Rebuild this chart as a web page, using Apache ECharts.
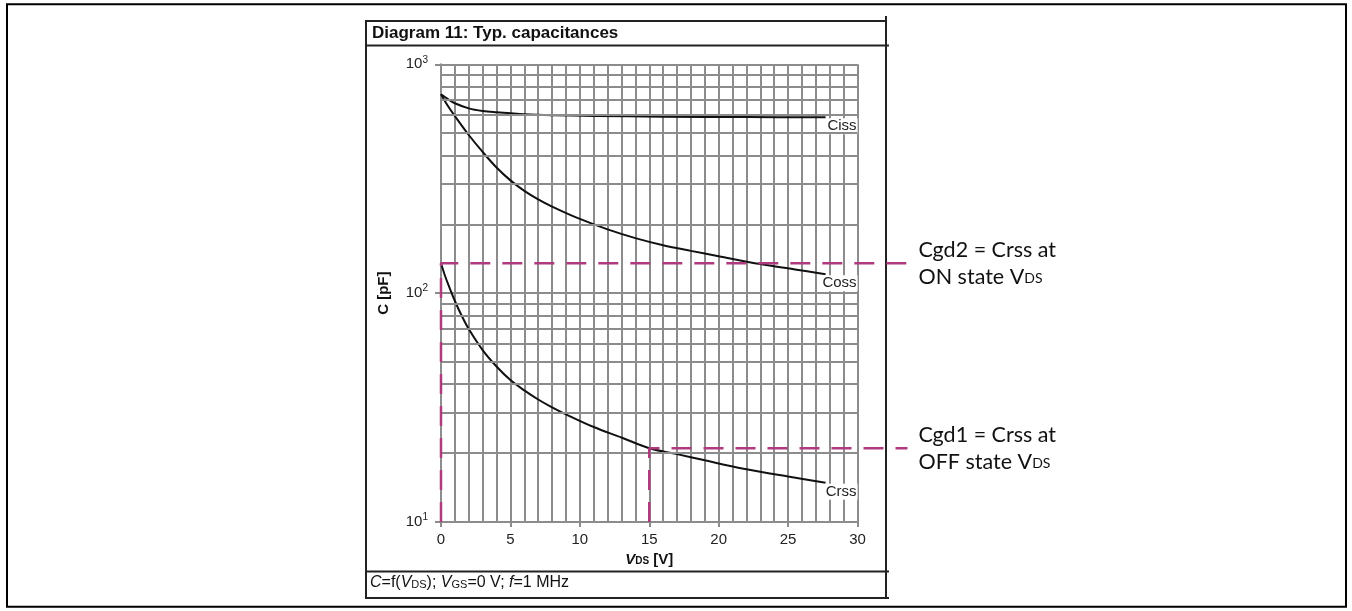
<!DOCTYPE html>
<html>
<head>
<meta charset="utf-8">
<script src="https://cdn.jsdelivr.net/npm/echarts@6/dist/echarts.min.js"></script>
<style>
  html, body { margin: 0; padding: 0; background: #fff; }
  #chart { width: 1352px; height: 611px; }
</style>
</head>
<body>
<div id="chart"></div>
<script>
// Typical capacitances versus drain-source voltage (V in volts, C in pF)
const cissV = [0, 0.5, 1, 2, 3, 4, 6, 8, 11, 16, 22, 27.7];
const cissC = [740, 705, 676, 642, 625, 617, 605, 599, 595, 590, 588, 587];

const cossV = [0, 0.5, 1, 2, 3, 4, 5, 6, 7, 8, 10, 12, 14, 16, 18, 20, 23, 25.5, 27.7];
const cossC = [740, 657, 594, 491, 414, 354, 311, 280, 257, 239, 211, 190, 174, 162, 153, 145, 134, 127, 121];

const crssV = [0, 0.25, 0.5, 1, 1.5, 2, 3, 4, 5, 6, 7, 8, 9, 11, 13, 15, 17, 19, 21.8, 25, 27.7];
const crssC = [135, 121, 110, 92.4, 79.5, 69.7, 56.4, 47.8, 41.7, 37.6, 34.3, 31.7, 29.55, 26.0, 23.4, 21.0, 19.8, 18.6, 17.1, 15.8, 14.85];

// Gate-drain capacitance reference levels
const cgd2 = 135;        // Crss at V_DS = 0 (ON state)
const cgd1 = 21.0;       // Crss at V_DS = 15 V (OFF state)
const offStateV = 15;
const calloutEndV = 33.6; // where the dashed leaders stop, right of the frame

const xMajorTicks = [0, 5, 10, 15, 20, 25, 30];
const yDecades = [10, 100, 1000];

const zip = (xs, ys) => xs.map((x, i) => [x, ys[i]]);

// log-grid lines at 2..9 within each decade
const minorGridValues = [];
for (let d = 0; d < yDecades.length - 1; d++) {
  for (let k = 2; k <= 9; k++) minorGridValues.push(yDecades[d] * k);
}

const GRID = '#8c8c8c';
const FONT = 'Liberation Sans, Arial, sans-serif';
const CALLOUT_FONT = 'Lato, sans-serif';
const LEADER = '#b03a7e';

// plot box geometry: 0..30 V spans 441..857.5 px
const PLOT_LEFT = 441, PLOT_RIGHT = 494.5, PLOT_TOP = 64.3, PLOT_BOTTOM = 89;
const PX_PER_V = (1352 - PLOT_LEFT - PLOT_RIGHT) / 30;
const LEADER_MAX_V = 40;
const LEADER_RIGHT = 1352 - PLOT_LEFT - PX_PER_V * LEADER_MAX_V;

const chart = echarts.init(document.getElementById('chart'), null, { renderer: 'canvas' });

function curve(name, xs, ys) {
  return {
    name: name,
    type: 'line',
    xAxisIndex: 0,
    yAxisIndex: 0,
    data: zip(xs, ys),
    showSymbol: false,
    smooth: 0.35,
    z: 4,
    lineStyle: { color: '#111', width: 2 },
    endLabel: {
      show: true,
      formatter: '{a}',
      position: 'right',
      align: 'right',
      distance: 0,
      offset: [32, 9],
      backgroundColor: '#fff',
      padding: [1, 1, 0, 1],
      color: '#222',
      fontFamily: FONT,
      fontSize: 15
    }
  };
}

function leader(name, points, text) {
  return {
    name: name,
    type: 'line',
    xAxisIndex: 2,
    yAxisIndex: 1,
    data: points,
    showSymbol: false,
    z: 5,
    lineStyle: { color: LEADER, width: 2.5, type: [20, 12] },
    endLabel: {
      show: true,
      formatter: () => text,
      distance: 11,
      lineHeight: 27,
      rich: {
        t: { fontFamily: CALLOUT_FONT, fontSize: 21.5, color: '#111', lineHeight: 27 },
        s: { fontFamily: CALLOUT_FONT, fontSize: 14, color: '#111', lineHeight: 27, padding: [4, 0, 0, 0] }
      }
    }
  };
}

const option = {
  animation: false,
  backgroundColor: '#fff',
  grid: [
    { left: PLOT_LEFT, right: PLOT_RIGHT, top: PLOT_TOP, bottom: PLOT_BOTTOM, containLabel: false },
    // same scale, wider extent: the dashed leaders run past the frame
    { left: PLOT_LEFT, right: LEADER_RIGHT, top: PLOT_TOP, bottom: PLOT_BOTTOM, containLabel: false }
  ],
  xAxis: [
    {
      type: 'value', gridIndex: 0, min: 0, max: 30, interval: 1, position: 'bottom',
      axisLine: { show: true, lineStyle: { color: GRID, width: 2 } },
      axisTick: { show: false },
      axisLabel: { show: false },
      splitLine: { show: true, lineStyle: { color: GRID, width: 2 } }
    },
    {
      type: 'value', gridIndex: 0, min: 0, max: 30, interval: 5, position: 'bottom',
      axisLine: { show: false },
      axisTick: { show: true, length: 5, lineStyle: { color: GRID, width: 2 } },
      splitLine: { show: false },
      axisLabel: {
        show: true, margin: 10, color: '#222', fontFamily: FONT, fontSize: 15,
        formatter: v => (xMajorTicks.indexOf(v) >= 0 ? String(v) : '')
      },
      name: '{v|V}{s|DS}{b| [V]}',
      nameLocation: 'middle',
      nameGap: 26,
      nameTextStyle: {
        rich: {
          v: { fontFamily: FONT, fontSize: 15, fontWeight: 'bold', fontStyle: 'italic', color: '#111' },
          s: { fontFamily: FONT, fontSize: 10, fontWeight: 'bold', color: '#111', padding: [4, 0, 0, 0] },
          b: { fontFamily: FONT, fontSize: 15, fontWeight: 'bold', color: '#111' }
        }
      }
    },
    { type: 'value', gridIndex: 1, min: 0, max: LEADER_MAX_V, show: false }
  ],
  yAxis: [
    {
      type: 'log', gridIndex: 0, logBase: 10, min: 10, max: 1000,
      axisLine: { show: true, lineStyle: { color: GRID, width: 2 } },
      axisTick: { show: true, length: 6, lineStyle: { color: GRID, width: 2 } },
      splitLine: { show: true, lineStyle: { color: GRID, width: 2 } },
      minorTick: { show: false },
      axisLabel: {
        margin: 13,
        formatter: v => '{n|10}{e|' + Math.round(Math.log10(v)) + '}',
        rich: {
          n: { fontFamily: FONT, fontSize: 15, color: '#222' },
          e: { fontFamily: FONT, fontSize: 10, color: '#222', padding: [0, 0, 9, 0] }
        }
      },
      name: 'C [pF]',
      nameLocation: 'middle',
      nameGap: 50,
      nameRotate: 90,
      nameTextStyle: { fontFamily: FONT, fontSize: 15, fontWeight: 'bold', color: '#111' }
    },
    { type: 'log', gridIndex: 1, logBase: 10, min: 10, max: 1000, show: false }
  ],
  series: [
    {
      name: 'log grid',
      type: 'line',
      xAxisIndex: 0,
      yAxisIndex: 0,
      data: [],
      z: 1,
      markLine: {
        silent: true,
        animation: false,
        symbol: 'none',
        label: { show: false },
        lineStyle: { color: GRID, width: 2, type: 'solid' },
        data: minorGridValues.map(v => ({ yAxis: v }))
      }
    },
    curve('Ciss', cissV, cissC),
    curve('Coss', cossV, cossC),
    curve('Crss', crssV, crssC),
    leader('Cgd2', [[0, yDecades[0]], [0, cgd2], [calloutEndV, cgd2]],
      '{t|Cgd2 = Crss at}\n{t|ON state V}{s|DS}'),
    leader('Cgd1', [[offStateV, yDecades[0]], [offStateV, cgd1], [calloutEndV, cgd1]],
      '{t|Cgd1 = Crss at}\n{t|OFF state V}{s|DS}')
  ],
  graphic: [
    // page border
    { type: 'rect', silent: true, z: 0, shape: { x: 7, y: 4.3, width: 1339, height: 602.5 },
      style: { fill: null, stroke: '#000', lineWidth: 2 } },
    // diagram frame
    { type: 'line', silent: true, shape: { x1: 366, y1: 21, x2: 887, y2: 21 }, style: { stroke: '#222', lineWidth: 2 } },
    { type: 'line', silent: true, shape: { x1: 366, y1: 20, x2: 366, y2: 599 }, style: { stroke: '#222', lineWidth: 2 } },
    { type: 'line', silent: true, shape: { x1: 886, y1: 16, x2: 886, y2: 599 }, style: { stroke: '#222', lineWidth: 2 } },
    { type: 'line', silent: true, shape: { x1: 366, y1: 45.5, x2: 889, y2: 45.5 }, style: { stroke: '#222', lineWidth: 2 } },
    { type: 'line', silent: true, shape: { x1: 366, y1: 571.5, x2: 889, y2: 571.5 }, style: { stroke: '#222', lineWidth: 2 } },
    { type: 'line', silent: true, shape: { x1: 366, y1: 598, x2: 889, y2: 598 }, style: { stroke: '#222', lineWidth: 2 } },
    {
      type: 'text', silent: true, left: 372, top: 25,
      style: { text: 'Diagram 11: Typ. capacitances', font: 'bold 17px ' + FONT, fill: '#111' }
    },
    {
      type: 'text', silent: true, left: 370, top: 575,
      style: {
        text: '{i|C}{r|=f(}{i|V}{s|DS}{r|); }{i|V}{s|GS}{r|=0 V; }{i|f}{r|=1 MHz}',
        rich: {
          r: { fontFamily: FONT, fontSize: 16, fill: '#111' },
          i: { fontFamily: FONT, fontSize: 16, fontStyle: 'italic', fill: '#111' },
          s: { fontFamily: FONT, fontSize: 11, fill: '#111', padding: [4, 0, 0, 0] }
        }
      }
    }
  ]
};

chart.setOption(option);
</script>
</body>
</html>
